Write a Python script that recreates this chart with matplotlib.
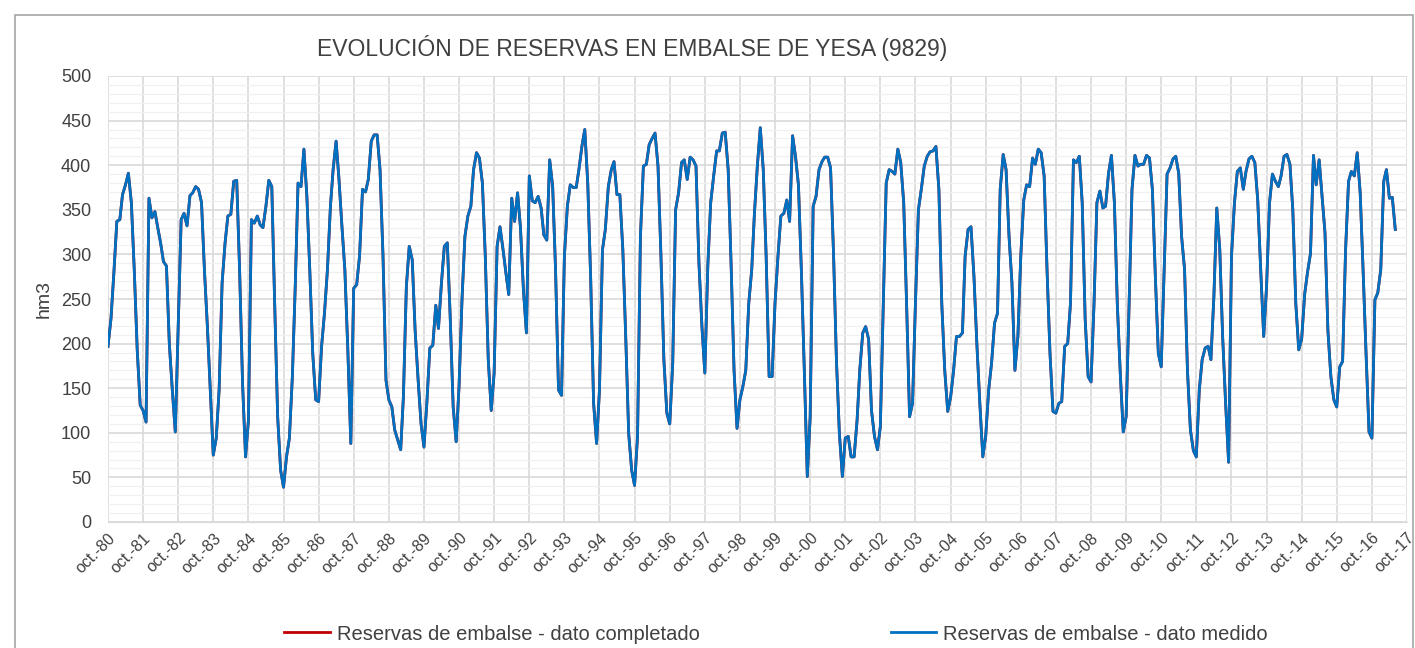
import pandas as pd
import matplotlib
matplotlib.use('Agg')
import matplotlib.pyplot as plt
from matplotlib.patches import Rectangle
from matplotlib.ticker import MultipleLocator

plt.rcParams['font.family'] = ['Liberation Sans', 'DejaVu Sans']

# monthly reserves (hm3), oct-80 onwards
res_80s = [197, 228, 279, 337, 339, 367, 378, 391, 358, 283, 193, 131,
           125, 112, 363, 341, 348, 331, 313, 292, 287, 200, 148, 101,
           220, 339, 346, 332, 366, 369, 376, 373, 358, 283, 219, 147,
           75, 94, 148, 268, 313, 343, 345, 382, 383, 283, 155, 73,
           114, 339, 335, 343, 333, 330, 354, 383, 376, 245, 118, 58,
           39, 73, 94, 163, 268, 380, 376, 418, 365, 283, 189, 137,
           135, 197, 234, 283, 354, 395, 427, 384, 331, 283, 193, 88,
           262, 266, 298, 373, 370, 384, 427, 434, 434, 395, 298, 159,
           137, 129, 103, 92, 81, 140, 264, 309, 294, 215, 160, 110,
           84, 135, 195, 198, 243, 217, 268, 309, 313, 230, 129, 90]
res_90s = [152, 250, 320, 343, 354, 395, 414, 408, 380, 298, 182, 125,
           167, 309, 331, 306, 279, 255, 363, 337, 369, 330, 260, 212,
           388, 360, 358, 365, 352, 322, 316, 406, 376, 283, 148, 142,
           298, 354, 378, 375, 375, 395, 421, 440, 380, 275, 133, 88,
           148, 305, 328, 376, 395, 404, 367, 367, 305, 208, 99, 58,
           41, 96, 320, 399, 401, 423, 430, 436, 399, 300, 182, 122,
           110, 178, 350, 369, 403, 406, 384, 409, 406, 399, 290, 219,
           167, 287, 358, 388, 416, 416, 436, 437, 395, 290, 170, 105,
           137, 152, 170, 245, 283, 346, 400, 442, 395, 298, 163, 163,
           245, 298, 343, 346, 361, 337, 433, 410, 378, 283, 170, 51]
res_00s = [118, 354, 365, 395, 404, 409, 409, 397, 301, 182, 99, 51,
           94, 96, 73, 73, 114, 170, 212, 219, 205, 125, 96, 81,
           107, 245, 380, 395, 393, 390, 418, 403, 358, 245, 118, 133,
           245, 350, 373, 399, 410, 415, 416, 421, 373, 245, 170, 124,
           140, 170, 208, 208, 212, 298, 328, 331, 275, 200, 133, 73,
           96, 148, 178, 223, 234, 373, 412, 395, 320, 268, 170, 208,
           298, 361, 378, 376, 408, 401, 418, 414, 388, 283, 189, 124,
           122, 133, 135, 197, 200, 245, 406, 403, 410, 358, 227, 163,
           157, 245, 358, 371, 352, 354, 391, 411, 358, 245, 167, 101,
           118, 245, 373, 411, 399, 401, 401, 411, 408, 373, 275, 189]
res_10s = [174, 283, 390, 397, 407, 410, 391, 320, 283, 170, 103, 80,
           73, 148, 182, 195, 197, 182, 253, 352, 306, 208, 133, 67,
           298, 358, 393, 397, 373, 393, 407, 410, 403, 361, 283, 208,
           264, 358, 390, 382, 376, 388, 410, 412, 401, 350, 245, 193,
           205, 255, 280, 301, 411, 378, 406, 365, 324, 215, 163, 137,
           129, 174, 180, 305, 382, 393, 388, 414, 369, 283, 189, 101,
           94, 249, 257, 283, 382, 395, 363, 364, 328]

medido = res_80s + res_90s + res_00s + res_10s
completado = medido  # completed series lies underneath the measured one
fechas = pd.date_range('1980-10-01', periods=len(medido), freq='MS')
ticks = pd.date_range('1980-10-01', '2017-10-01', freq='12MS')
tick_labels = ['oct.-%02d' % (d.year % 100) for d in ticks]

fig = plt.figure(figsize=(14.15, 6.48), dpi=100)
ax = fig.add_axes([108 / 1415, 126 / 648, 1299 / 1415, 446 / 648])

l1, = ax.plot(fechas, completado, color='#c00000', lw=2.0, zorder=2)
l2, = ax.plot(fechas, medido, color='#0070c0', lw=2.0, zorder=3)

ax.set_xlim(ticks[0], ticks[-1])
ax.set_ylim(0, 500)
ax.set_xticks(ticks)
ax.set_xticklabels(tick_labels, rotation=45, ha='right', rotation_mode='anchor',
                   fontsize=11.5, color='#404040')
ax.yaxis.set_major_locator(MultipleLocator(50))
ax.yaxis.set_minor_locator(MultipleLocator(10))
ax.tick_params(axis='y', labelsize=13, colors='#404040', length=0, which='both', pad=12)
ax.tick_params(axis='x', length=0, pad=6)

ax.grid(True, which='major', color='#d9d9d9', lw=1.2)
ax.grid(True, which='minor', axis='y', color='#f0f0f0', lw=0.9)
ax.set_axisbelow(True)
for s in ['top', 'right', 'left']:
    ax.spines[s].set_visible(False)
ax.spines['bottom'].set_color('#d9d9d9')

ax.set_ylabel('hm3', fontsize=14, color='#404040', labelpad=6)

fig.text(632 / 1415, 1 - 48 / 648, 'EVOLUCIÓN DE RESERVAS EN EMBALSE DE YESA (9829)',
         ha='center', va='center', fontsize=16.5, color='#404040')

fig.legend([l1, l2], ['Reservas de embalse - dato completado',
                      'Reservas de embalse - dato medido'],
           loc='center', bbox_to_anchor=(776 / 1415, 14 / 648), ncol=2,
           frameon=False, fontsize=14.5, handlelength=2.25, columnspacing=9.5,
           handletextpad=0.35, labelcolor='#404040')

fig.patches.append(Rectangle((15 / 1415, -0.05), 1398 / 1415, 1 - 15 / 648 + 0.05,
                             transform=fig.transFigure, fill=False,
                             edgecolor='#a6a6a6', lw=1.2))

fig.savefig('out.png', dpi=100)
